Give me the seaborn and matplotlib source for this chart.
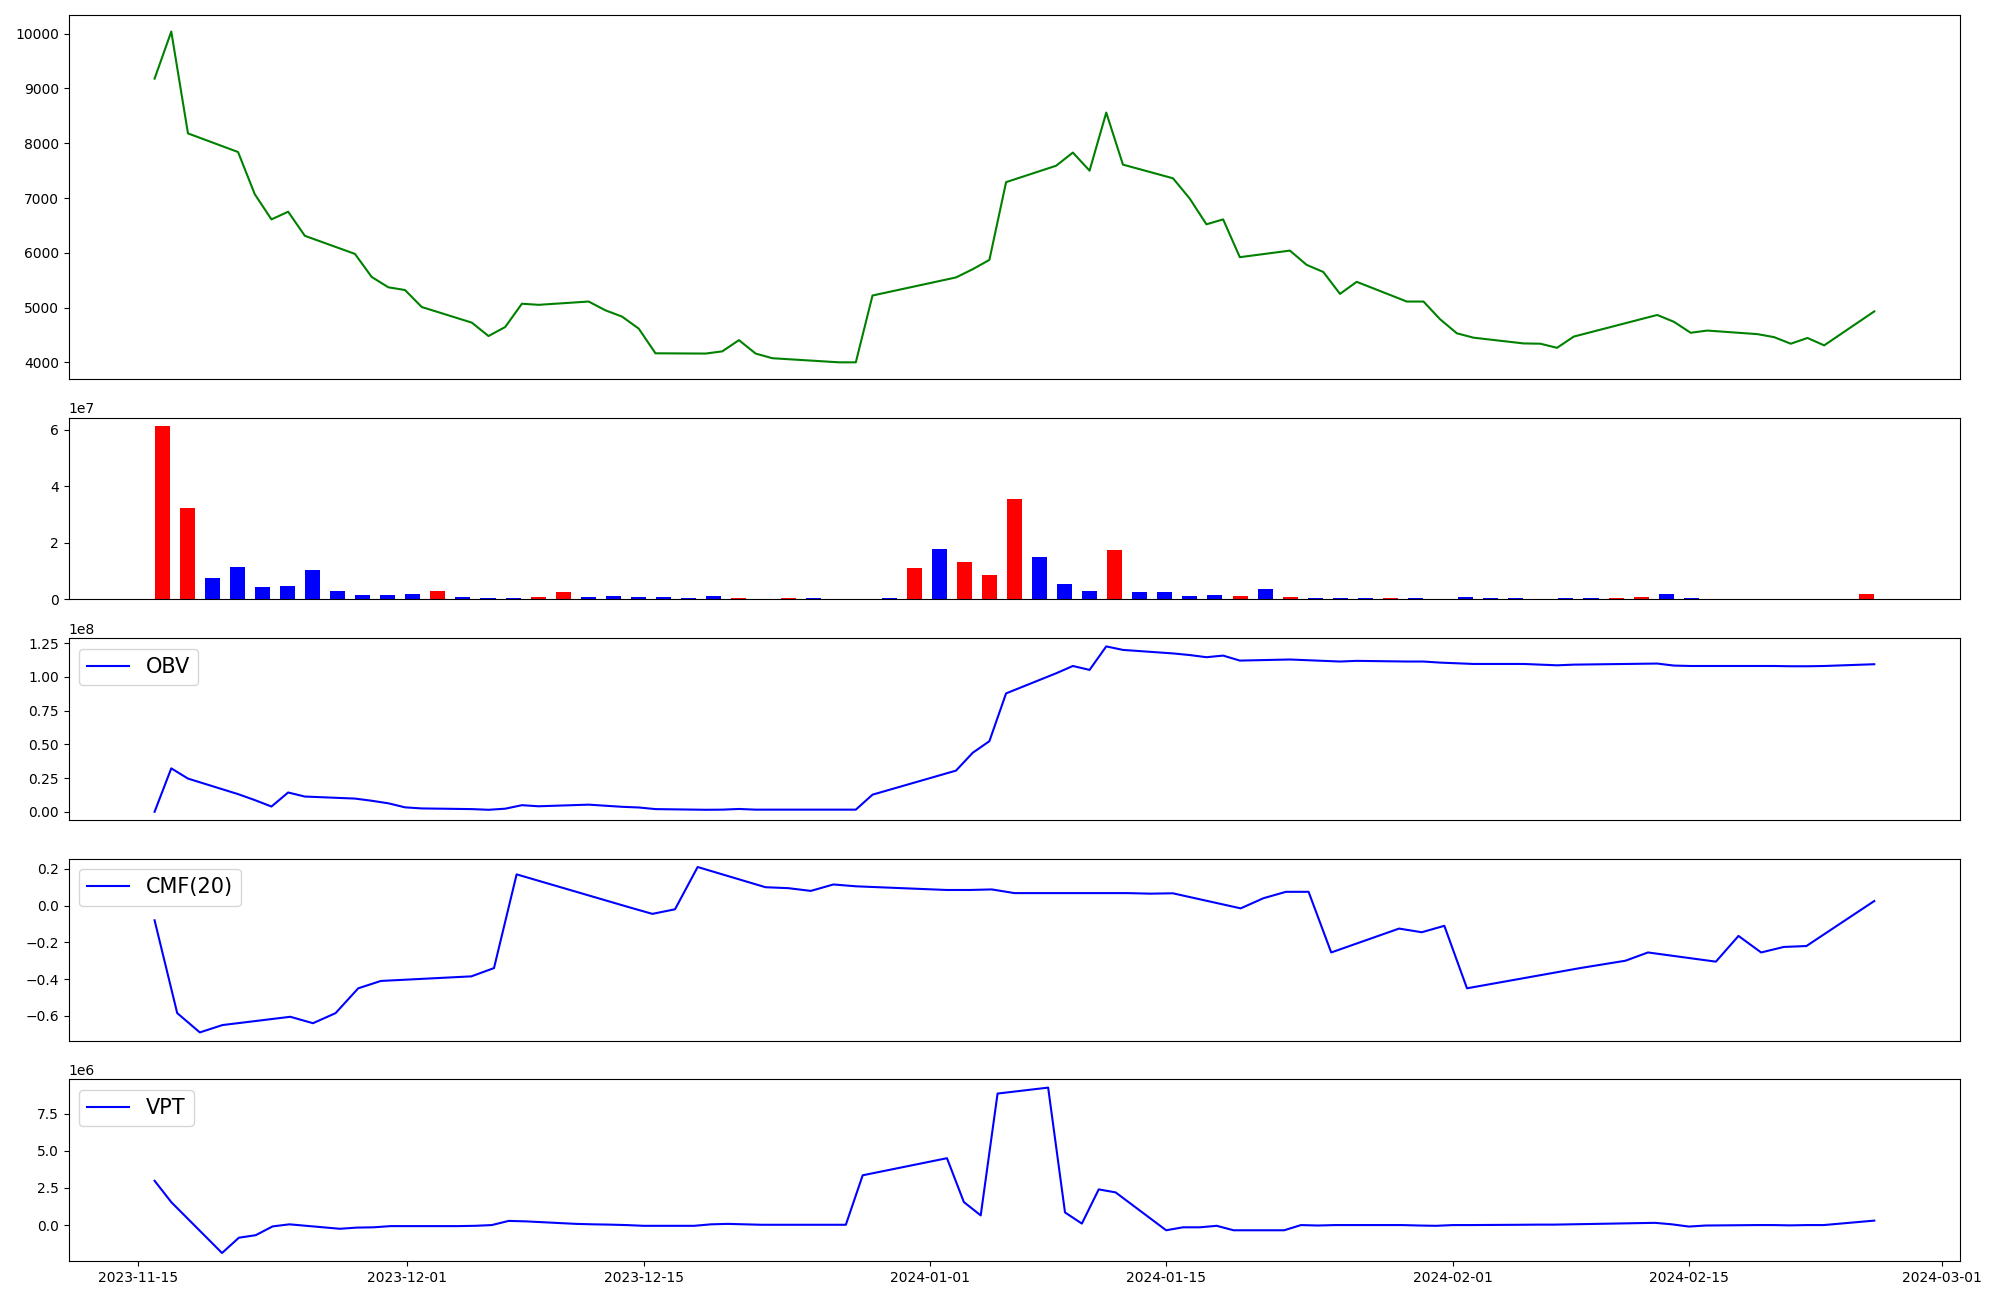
import matplotlib
matplotlib.use("Agg")
import matplotlib.pyplot as plt
import numpy as np
import pandas as pd
import seaborn as sns

# trading days (KRX calendar)
dates = pd.to_datetime([
    "2023-11-15", "2023-11-16", "2023-11-17", "2023-11-20", "2023-11-21", "2023-11-22",
    "2023-11-23", "2023-11-24", "2023-11-27", "2023-11-28", "2023-11-29", "2023-11-30",
    "2023-12-01", "2023-12-04", "2023-12-05", "2023-12-06", "2023-12-07", "2023-12-08",
    "2023-12-11", "2023-12-12", "2023-12-13", "2023-12-14", "2023-12-15", "2023-12-18",
    "2023-12-19", "2023-12-20", "2023-12-21", "2023-12-22", "2023-12-26", "2023-12-27",
    "2023-12-28", "2024-01-02", "2024-01-03", "2024-01-04", "2024-01-05", "2024-01-08",
    "2024-01-09", "2024-01-10", "2024-01-11", "2024-01-12", "2024-01-15", "2024-01-16",
    "2024-01-17", "2024-01-18", "2024-01-19", "2024-01-22", "2024-01-23", "2024-01-24",
    "2024-01-25", "2024-01-26", "2024-01-29", "2024-01-30", "2024-01-31", "2024-02-01",
    "2024-02-02", "2024-02-05", "2024-02-06", "2024-02-07", "2024-02-08", "2024-02-13",
    "2024-02-14", "2024-02-15", "2024-02-16", "2024-02-19", "2024-02-20", "2024-02-21",
    "2024-02-22", "2024-02-23", "2024-02-26",
])

close = [9180, 10040, 8180, 7840, 7070, 6610, 6750, 6310, 5980, 5560,
         5370, 5320, 5010, 4725, 4480, 4645, 5070, 5050, 5110, 4950,
         4835, 4615, 4165, 4160, 4200, 4405, 4160, 4075, 4000, 4000,
         5220, 5550, 5700, 5870, 7290, 7590, 7830, 7500, 8560, 7610,
         7360, 6990, 6520, 6610, 5920, 6040, 5780, 5650, 5250, 5470,
         5110, 5110, 4785, 4530, 4450, 4345, 4340, 4265, 4470, 4865,
         4740, 4540, 4580, 4515, 4460, 4340, 4445, 4310, 4930]

# volume in millions of shares
volume_m = [61.2, 32.2, 7.6, 11.5, 4.4, 4.8, 10.4, 3.0, 1.55, 1.55,
            1.9, 3.0, 0.8, 0.5, 0.5, 0.8, 2.6, 0.8, 1.2, 0.8,
            0.8, 0.5, 1.2, 0.5, 0.1, 0.5, 0.5, 0.0, 0.0, 0.5,
            11.1, 17.8, 13.2, 8.6, 35.4, 14.9, 5.4, 2.9, 17.4, 2.6,
            2.6, 1.2, 1.55, 1.2, 3.7, 0.8, 0.5, 0.5, 0.5, 0.5,
            0.5, 0.0, 0.8, 0.5, 0.5, 0.0, 0.5, 0.5, 0.5, 0.8,
            1.9, 0.5, 0.0, 0.0, 0.0, 0.0, 0.0, 0.0, 1.9]

candle = ["up", "up", "down", "down", "down", "down", "down", "down", "down", "down",
          "down", "up", "down", "down", "down", "up", "up", "down", "down", "down",
          "down", "down", "down", "up", "up", "up", "down", "down", "down", "down",
          "up", "down", "up", "up", "up", "down", "down", "down", "up", "down",
          "down", "down", "down", "up", "down", "up", "down", "down", "down", "up",
          "down", "down", "down", "down", "down", "down", "down", "down", "up", "up",
          "down", "down", "down", "down", "down", "down", "down", "down", "up"]

# OBV in millions
obv_m = [0, 32.2, 24.6, 13.1, 8.7, 3.9, 14.3, 11.3, 9.8, 8.2,
         6.3, 3.3, 2.5, 2.0, 1.5, 2.3, 4.9, 4.1, 5.3, 4.5,
         3.7, 3.2, 2.0, 1.5, 1.6, 2.1, 1.6, 1.6, 1.6, 1.6,
         12.7, 30.5, 43.7, 52.3, 87.7, 102.6, 108.0, 105.1, 122.5, 119.9,
         117.3, 116.1, 114.5, 115.7, 112.0, 112.8, 112.3, 111.8, 111.3, 111.8,
         111.3, 111.3, 110.5, 110.0, 109.5, 109.5, 109.0, 108.5, 109.0, 109.8,
         108.3, 108.0, 108.0, 108.0, 108.0, 107.8, 107.8, 108.0, 109.3]

# CMF(20): first value available on the 20th session
cmf = [-0.08, -0.585, -0.69, -0.65, -0.605, -0.64, -0.585, -0.45, -0.41, -0.385,
       -0.34, 0.17, -0.01, -0.045, -0.02, 0.21, 0.10, 0.095, 0.08, 0.115,
       0.105, 0.09, 0.085, 0.085, 0.088, 0.068, 0.068, 0.068, 0.068, 0.065,
       0.067, -0.015, 0.04, 0.075, 0.075, -0.255, -0.125, -0.145, -0.11, -0.45,
       -0.34, -0.32, -0.30, -0.255, -0.305, -0.165, -0.255, -0.225, -0.22, 0.025]

# VPT in millions, starts on the second session
vpt_m = [2.98, 1.53, -1.88, -0.85, -0.68, -0.09, 0.05, -0.25, -0.17, -0.15,
         -0.07, -0.07, -0.07, -0.05, 0.0, 0.28, 0.25, 0.08, 0.05, 0.03,
         0.0, -0.05, -0.05, 0.05, 0.08, 0.05, 0.02, 0.02, 0.02, 3.35,
         4.5, 1.55, 0.65, 8.85, 9.25, 0.85, 0.1, 2.4, 2.2, -0.35,
         -0.15, -0.15, -0.05, -0.35, -0.35, 0.0, -0.03, 0.0, 0.0, 0.0,
         -0.03, -0.05, 0.0, 0.0, 0.02, 0.03, 0.03, 0.05, 0.15, 0.05,
         -0.1, -0.03, 0.0, 0.0, -0.02, 0.0, 0.0, 0.3]

volume = np.array(volume_m) * 1e6
obv = np.array(obv_m) * 1e6
vpt = np.array(vpt_m) * 1e6

fig, axes = plt.subplots(5, 1, figsize=(20, 13),
                         gridspec_kw={"height_ratios": [2, 1, 1, 1, 1]})

# price
sns.lineplot(x=dates, y=close, color="green", ax=axes[0])

# volume bars, red when close >= open
sns.barplot(x=np.arange(len(volume)), y=volume, hue=candle,
            palette={"up": "red", "down": "blue"}, native_scale=True,
            width=0.6, dodge=False, saturation=1, errorbar=None,
            legend=False, ax=axes[1])

# OBV
sns.lineplot(x=dates, y=obv, color="blue", label="OBV", ax=axes[2])

# CMF
sns.lineplot(x=dates[19:], y=cmf, color="blue", label="CMF(20)", ax=axes[3])

# VPT
sns.lineplot(x=dates[1:], y=vpt, color="blue", label="VPT", ax=axes[4])

for ax in axes[2:]:
    ax.legend(loc="upper left", fontsize=15)

for ax in axes[:4]:
    ax.set_xticks([])

for ax in axes:
    ax.set_xlabel("")
    ax.set_ylabel("")

plt.tight_layout()
plt.savefig("out.png", dpi=100)
